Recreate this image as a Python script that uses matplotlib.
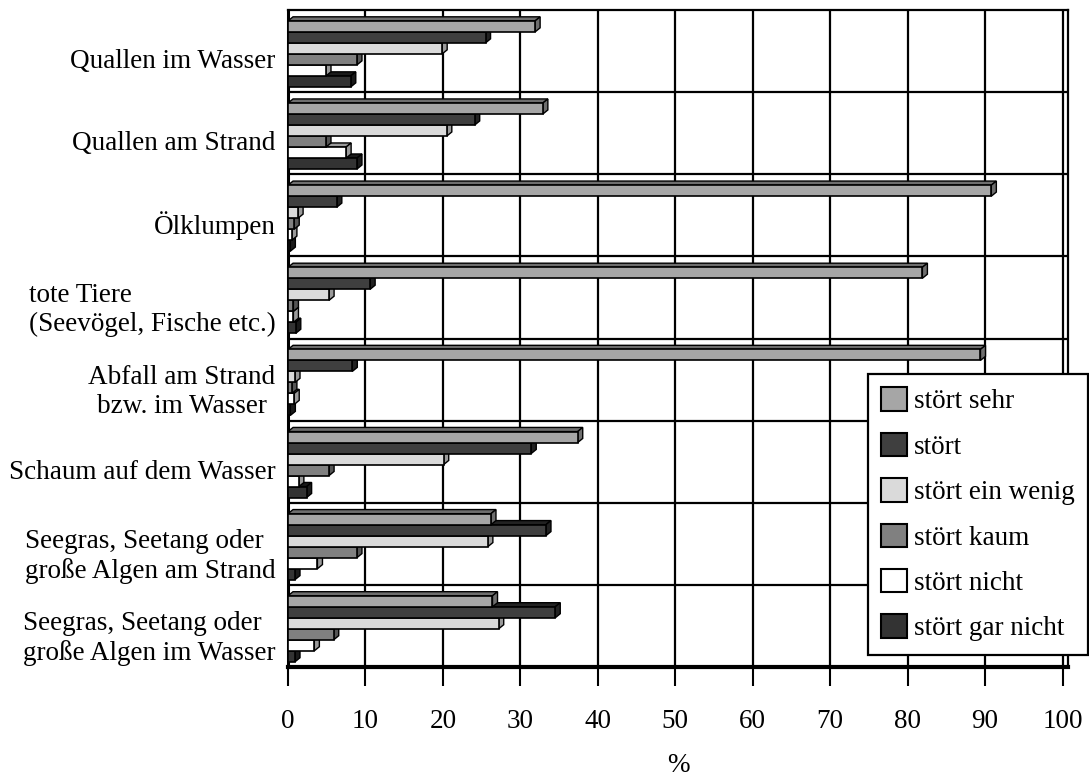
import matplotlib
matplotlib.use('Agg')
import matplotlib.pyplot as plt
from matplotlib.patches import Patch

plt.rcParams['font.family'] = ['Liberation Serif', 'DejaVu Serif']

# categories (top to bottom) and series values in %
categories = ['Quallen im Wasser', 'Quallen am Strand', 'Ölklumpen',
              'tote Tiere\n(Seevögel, Fische etc.)', 'Abfall am Strand\nbzw. im Wasser',
              'Schaum auf dem Wasser', 'Seegras, Seetang oder\ngroße Algen am Strand',
              'Seegras, Seetang oder\ngroße Algen im Wasser']
series_names = ['stört sehr', 'stört', 'stört ein wenig', 'stört kaum',
                'stört nicht', 'stört gar nicht']
stoert_sehr = [31.9, 32.9, 90.8, 81.9, 89.4, 37.4, 26.2, 26.4]
stoert = [25.5, 24.1, 6.3, 10.6, 8.3, 31.4, 33.3, 34.5]
stoert_wenig = [19.9, 20.5, 1.3, 5.3, 0.9, 20.1, 25.8, 27.2]
stoert_kaum = [8.9, 4.9, 0.8, 0.7, 0.5, 5.3, 8.9, 5.9]
stoert_nicht = [4.9, 7.5, 0.5, 0.7, 0.8, 1.4, 3.8, 3.4]
stoert_gar_nicht = [8.1, 8.9, 0.3, 1.0, 0.3, 2.4, 0.9, 0.9]
x_ticks = [0, 10, 20, 30, 40, 50, 60, 70, 80, 90, 100]

data = [stoert_sehr, stoert, stoert_wenig, stoert_kaum, stoert_nicht, stoert_gar_nicht]
face = ['#a6a6a6', '#3f3f3f', '#dadada', '#808080', '#ffffff', '#333333']
side = ['#6e6e6e', '#222222', '#9a9a9a', '#555555', '#9a9a9a', '#1a1a1a']

fig = plt.figure(figsize=(10.89, 7.81), dpi=100)
ax = fig.add_axes([288/1089, 1 - 667/781, 780/1089, 657/781])

h = 0.134
dx, dy = 0.65, 0.05
# draw the lowest series first so the bar above hides its top face
for j in range(len(data) - 1, -1, -1):
    vals = data[j]
    for i, v in enumerate(vals):
        yc = i - 3 * h + (j + 0.5) * h + 0.035
        yt, yb = yc - h / 2, yc + h / 2
        ax.fill([0, v, v + dx, dx], [yt, yt, yt - dy, yt - dy],
                color=side[j], ec='black', lw=1.0, zorder=3)
        ax.fill([v, v, v + dx, v + dx], [yb, yt, yt - dy, yb - dy],
                color=side[j], ec='black', lw=1.0, zorder=3)
        ax.barh(yc, v, height=h, color=face[j], edgecolor='black', lw=1.2, zorder=3)

ax.set_xlim(0, 100.7)
ax.set_ylim(len(categories) - 0.5, -0.5)
ax.set_xticks(x_ticks)
ax.set_xticklabels([str(t) for t in x_ticks], fontsize=19.5)
ax.set_yticks([i + 0.09 for i in range(len(categories))])
labels = ax.set_yticklabels(categories, fontsize=19.5)
for k, lab in enumerate(labels):
    lab.set_multialignment('center' if k == 4 else 'left')
    lab.set_linespacing(1.2)
ax.tick_params(axis='x', length=14, width=1.5, pad=16, direction='out')
ax.tick_params(axis='y', length=0, pad=9)

for t in x_ticks[1:]:
    ax.axvline(t, color='black', lw=1.6, zorder=1)
for i in range(1, len(categories)):
    ax.axhline(i - 0.5, color='black', lw=1.6, zorder=1)

for s in ['top', 'right']:
    ax.spines[s].set_linewidth(1.6)
ax.spines['left'].set_linewidth(2.2)
ax.spines['bottom'].set_linewidth(3.0)

ax.set_xlabel('%', fontsize=19.5, labelpad=14)

handles = [Patch(facecolor=face[j], edgecolor='black', lw=1.5) for j in range(6)]
leg = fig.legend(handles, series_names, loc='lower right',
                 bbox_to_anchor=(1088/1089, 1 - 655/781), fontsize=19.5,
                 frameon=True, fancybox=False, edgecolor='black',
                 handlelength=0.95, handleheight=0.95, handletextpad=0.25,
                 labelspacing=0.68, borderpad=0.5, borderaxespad=0)
leg.get_frame().set_linewidth(1.6)
leg.get_frame().set_alpha(1)

fig.savefig('out.png', dpi=100)
